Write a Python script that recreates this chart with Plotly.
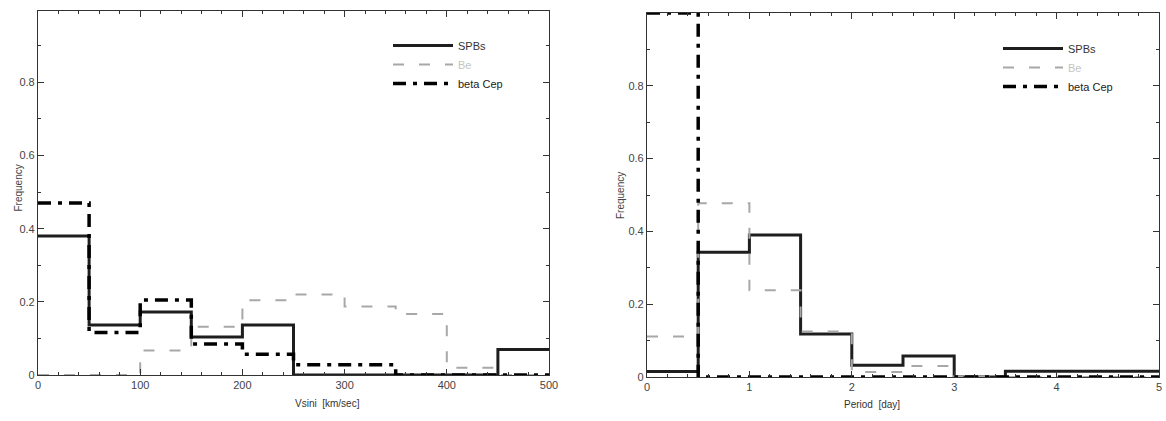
import plotly.graph_objects as go
from plotly.subplots import make_subplots

# ---- data ----
vsini_edges = [0, 50, 100, 150, 200, 250, 300, 350, 400, 450, 500]
vsini_spb = [0.38, 0.137, 0.172, 0.104, 0.137, 0.0, 0.0, 0.0, 0.0, 0.07]
vsini_be = [0.0, 0.0, 0.067, 0.132, 0.204, 0.22, 0.187, 0.167, 0.02, 0.0]
vsini_bcep = [0.47, 0.116, 0.205, 0.085, 0.057, 0.028, 0.028, 0.0, 0.0, 0.0]

period_edges = [0, 0.5, 1.0, 1.5, 2.0, 2.5, 3.0, 3.5, 4.0, 4.5, 5.0]
period_spb = [0.015, 0.343, 0.39, 0.118, 0.032, 0.058, 0.0, 0.016, 0.016, 0.016]
period_be = [0.111, 0.477, 0.238, 0.125, 0.014, 0.03, 0.0, 0.0, 0.0, 0.0]
period_bcep = [1.0, 0.0, 0.0, 0.0, 0.0, 0.0, 0.0, 0.0, 0.0, 0.0]

series_names = ["SPBs", "Be", "beta Cep"]
vsini_ticks = [0, 100, 200, 300, 400, 500]
period_ticks = [0, 1, 2, 3, 4, 5]
freq_ticks = [0, 0.2, 0.4, 0.6, 0.8]
freq_labels = ["0", "0.2", "0.4", "0.6", "0.8"]

W, H = 1166, 421
FONT = "Liberation Sans, Arial, sans-serif"

styles = [
    dict(color="#1e1e1e", width=3, dash="solid"),
    dict(color="#a8a8a8", width=2, dash="11px,15px"),
    dict(color="#000000", width=3.5, dash="13px,7px,4px,7px"),
]
label_colors = ["#333", "#c4c4c4", "#222"]
label_names = [f"<span style='color:{c}'>{n}</span>" for n, c in zip(series_names, label_colors)]

fig = make_subplots(rows=1, cols=2)

for col, (edges, data, leg) in enumerate(
    [(vsini_edges, [vsini_spb, vsini_be, vsini_bcep], "legend"),
     (period_edges, [period_spb, period_be, period_bcep], "legend2")], start=1):
    for i, vals in enumerate(data):
        fig.add_trace(go.Scatter(
            x=edges, y=list(vals) + [vals[-1]],
            mode="lines", line_shape="hv",
            line=styles[i], name=label_names[i],
            legend=leg, showlegend=True, hoverinfo="skip",
        ), row=1, col=col)

def px_x(p):
    return p / W

def px_y(p):
    return 1 - p / H

axis_common = dict(
    showgrid=False, zeroline=False, showline=True, linecolor="#333",
    linewidth=1.2, mirror="ticks", ticks="inside", ticklen=6,
    tickcolor="#333", tickfont=dict(family=FONT, size=11, color="#444"),
    automargin=False,
)

fig.update_layout(
    width=W, height=H, margin=dict(l=0, r=0, t=0, b=0),
    paper_bgcolor="white", plot_bgcolor="white",
    xaxis=dict(domain=[px_x(38), px_x(549)], range=[0, 500],
               tickvals=vsini_ticks, minor=dict(dtick=20, ticks="inside", ticklen=3, tickcolor="#333"),
               **axis_common),
    yaxis=dict(domain=[px_y(375), px_y(11)], range=[0, 0.995],
               tickvals=freq_ticks, ticktext=freq_labels,
               minor=dict(dtick=0.1, ticks="inside", ticklen=3, tickcolor="#333"),
               **axis_common),
    xaxis2=dict(domain=[px_x(647), px_x(1159)], range=[0, 5],
                tickvals=period_ticks, minor=dict(dtick=0.2, ticks="inside", ticklen=3, tickcolor="#333"),
                **axis_common),
    yaxis2=dict(domain=[px_y(377), px_y(13)], range=[0, 1.0],
                tickvals=freq_ticks, ticktext=freq_labels,
                minor=dict(dtick=0.1, ticks="inside", ticklen=3, tickcolor="#333"),
                **axis_common),
    legend=dict(x=px_x(388), y=px_y(31), xanchor="left", yanchor="top",
                bgcolor="rgba(0,0,0,0)", font=dict(family=FONT, size=11, color="#333"),
                itemwidth=60, tracegroupgap=0),
    legend2=dict(x=px_x(998), y=px_y(34), xanchor="left", yanchor="top",
                 bgcolor="rgba(0,0,0,0)", font=dict(family=FONT, size=11, color="#333"),
                 itemwidth=60, tracegroupgap=0),
    annotations=[
        dict(text="Frequency", x=px_x(11), y=px_y(188), xref="paper", yref="paper",
             textangle=-90, showarrow=False, font=dict(family=FONT, size=10, color="#444")),
        dict(text="Frequency", x=px_x(620), y=px_y(196), xref="paper", yref="paper",
             textangle=-90, showarrow=False, font=dict(family=FONT, size=10, color="#444")),
        dict(text="Vsini  [km/sec]", x=px_x(293), y=px_y(411), xref="paper", yref="paper",
             showarrow=False, font=dict(family=FONT, size=10, color="#333")),
        dict(text="Period  [day]", x=px_x(902), y=px_y(412), xref="paper", yref="paper",
             showarrow=False, font=dict(family=FONT, size=10, color="#333")),
    ],
)

fig.write_html("out.html")
